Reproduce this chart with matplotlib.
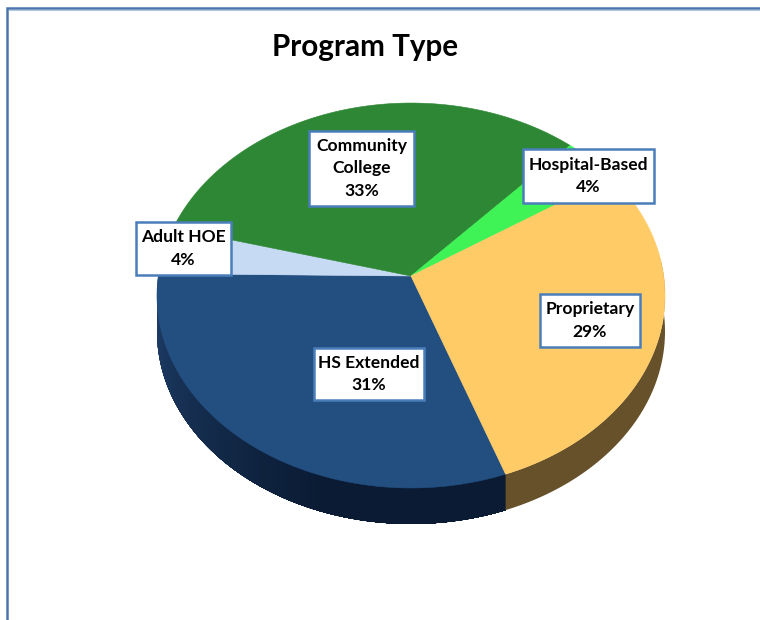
import numpy as np
import matplotlib
matplotlib.use("Agg")
import matplotlib.pyplot as plt
from matplotlib.patches import Rectangle

plt.rcParams['font.family'] = ['Lato', 'DejaVu Sans']

# clockwise from the proprietary / hs boundary
categories = ["HS Extended", "Adult HOE", "Community\nCollege", "Hospital-Based", "Proprietary"]
values = [31, 4, 33, 4, 29]
top_colors = ["#234e80", "#c6dbf3", "#2d8734", "#3ff255", "#fecb66"]
# label box: left, top, right, bottom in pixels
boxes = [(314, 348, 424, 400), (136, 222, 231, 275), (309, 131, 414, 206),
         (523, 149, 654, 203), (540, 294, 640, 347)]

cx, cy = 411, 276
s, t, k = 252.7, 190.5, 0.1013   # perspective of the disc
depth = 36
start = -70.2


def rim(theta):
    a = np.radians(theta)
    w = 1 + k * np.sin(a)
    return cx + s * np.cos(a) / w, cy - t * np.sin(a) / w


fig = plt.figure(figsize=(7.6, 6.2), dpi=100)
ax = fig.add_axes([0, 0, 1, 1])
ax.set_xlim(0, 760)
ax.set_ylim(620, 0)
ax.axis('off')

# chart frame
ax.plot([7, 7, 760], [620, 8, 8], color="#4a76ad", lw=1.8, solid_joinstyle='miter')
ax.plot([8.5, 760], [9.6, 9.6], color="#b4c8e4", lw=0.8)

ax.text(365, 47, "Program Type", ha='center', va='center', fontsize=21.3,
        fontweight='bold', color='black')

angles = start - np.cumsum([0] + values) * 360.0 / sum(values)

# side wall, blue part darkens to the right, the rest is plain brown
# each piece runs to the end of the wall so no seams show between them
blue_a = np.linspace(angles[1], angles[0], 70)
shade0 = np.array([0x20, 0x40, 0x6c]) / 255
shade1 = np.array([0x0a, 0x1b, 0x33]) / 255
for i in range(len(blue_a) - 1):
    x, y = rim(blue_a[i:])
    c = shade0 + (shade1 - shade0) * min(1, i / 45)
    ax.fill(np.r_[x, x[::-1]], np.r_[y, y[::-1] + depth], color=c, lw=0, zorder=2)
a = np.linspace(angles[0], 5, 90)
x, y = rim(a)
ax.fill(np.r_[x, x[::-1]], np.r_[y, y[::-1] + depth], color="#67512a", lw=0, zorder=2)

# top of the pie
for i in range(len(values)):
    a = np.linspace(angles[i], angles[i + 1], 120)
    x, y = rim(a)
    ax.fill(np.r_[cx, x], np.r_[cy, y], color=top_colors[i], lw=0.4, zorder=3)

for name, v, (l, tp, r, b) in zip(categories, values, boxes):
    ax.add_patch(Rectangle((l, tp), r - l, b - tp, fc='white', ec="#4a7ebb", lw=1.8, zorder=4))
    ax.text((l + r) / 2, (tp + b) / 2, name + "\n" + str(v) + "%", ha='center', va='center',
            fontsize=12.6, fontweight='bold', color='black', linespacing=1.5, zorder=5)

fig.savefig("out.png", dpi=100)
